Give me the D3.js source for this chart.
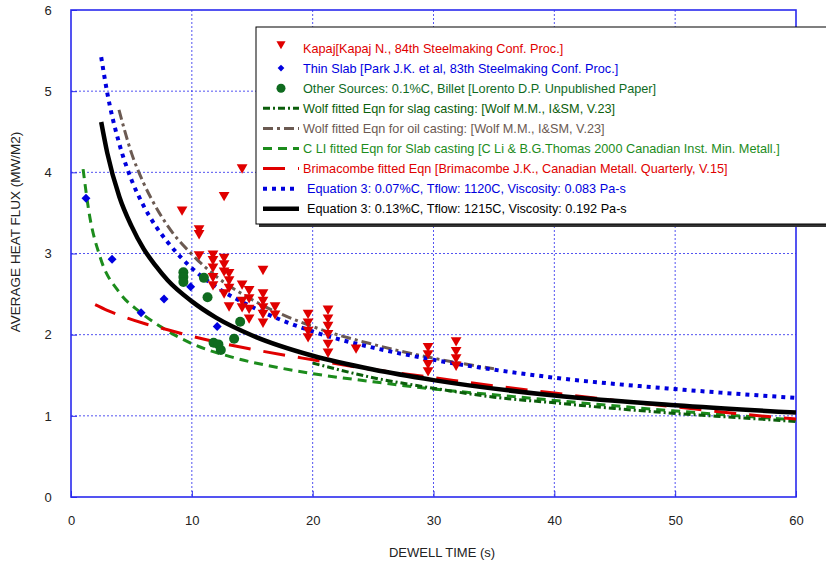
<!doctype html>
<html>
<head>
<meta charset="UTF-8">
<title>Heat flux vs dwell time</title>
<script src="https://d3js.org/d3.v7.min.js"></script>
<style>
  body { margin: 0; background: #fff; }
  svg { display: block; }
  text { font-family: "Liberation Sans", Arial, sans-serif; }
</style>
</head>
<body>
<svg id="chart" width="826" height="563"></svg>
<script>
// ---- data ----
var xTicks = [0, 10, 20, 30, 40, 50, 60];
var yTicks = [0, 1, 2, 3, 4, 5, 6];

// Kapaj [t (s), q (MW/m2)]
var kapaj = [
  [14.16, 4.06], [12.67, 3.72], [9.19, 3.54], [10.60, 3.31], [10.60, 3.25], [10.60, 2.99],
  [11.75, 3.00], [11.75, 2.93], [11.75, 2.84], [11.75, 2.72], [11.75, 2.62],
  [12.67, 2.96], [12.67, 2.88], [12.67, 2.79], [12.67, 2.52],
  [13.08, 2.77], [13.08, 2.68], [13.08, 2.59], [13.08, 2.36],
  [14.16, 2.63], [14.16, 2.43], [14.16, 2.35],
  [14.74, 2.56], [14.74, 2.46], [14.74, 2.33], [14.74, 2.21],
  [15.89, 2.81], [15.89, 2.52], [15.89, 2.43], [15.89, 2.35], [15.89, 2.27], [15.89, 2.16],
  [16.89, 2.36], [16.89, 2.26],
  [19.62, 2.27], [19.62, 2.16], [19.62, 2.06], [19.62, 1.98],
  [21.27, 2.32], [21.27, 2.21], [21.27, 2.12], [21.27, 2.02], [21.27, 1.90], [21.27, 1.79],
  [23.59, 1.84],
  [29.55, 1.86], [29.55, 1.77], [29.55, 1.65], [29.55, 1.56],
  [31.87, 1.93], [31.87, 1.81], [31.87, 1.72], [31.87, 1.63]
];

var thinSlab = [[1.24, 3.68], [3.4, 2.93], [5.8, 2.27], [7.7, 2.44], [9.9, 2.59], [12.1, 2.10]];

var otherSources = [
  [9.3, 2.77], [9.3, 2.71], [9.3, 2.65], [11.0, 2.70], [11.3, 2.46], [14.0, 2.16],
  [13.5, 1.95], [11.8, 1.90], [12.2, 1.88], [12.4, 1.81]
];

var wolfSlag = [[20, 1.65], [25, 1.47], [30, 1.34], [35, 1.23], [40, 1.16], [45, 1.09],
  [50, 1.03], [55, 0.98], [60, 0.93]];

var wolfOil = [[3.97, 4.77], [5, 4.24], [6, 3.87], [7, 3.58], [8, 3.34], [10, 2.99], [12, 2.72],
  [15, 2.43], [20, 2.10], [25, 1.88], [30, 1.71], [35, 1.58]];

var cLi = [[1.0, 4.04], [1.5, 3.5], [2.4, 2.96], [4.0, 2.52], [5.7, 2.28], [7.4, 2.10], [10, 1.89],
  [13.4, 1.72], [17.3, 1.59], [20, 1.52], [25, 1.42], [30, 1.33], [35, 1.26], [40, 1.19],
  [50, 1.06], [60, 0.95]];

var brimacombe = [[2, 2.37], [3, 2.30], [4, 2.24], [6, 2.14], [8, 2.06], [10, 1.98], [15, 1.82],
  [20, 1.69], [25, 1.57], [30, 1.47], [35, 1.37], [40, 1.28], [45, 1.19], [50, 1.11],
  [55, 1.03], [60, 0.96]];

var eq3Low = [[2.5, 5.42], [3, 4.98], [4, 4.35], [5, 3.91], [6, 3.59], [7, 3.34], [8, 3.14],
  [10, 2.82], [12, 2.59], [15, 2.34], [20, 2.04], [25, 1.84], [30, 1.69], [40, 1.47],
  [50, 1.33], [60, 1.22]];

var eq3High = [[2.5, 4.62], [3, 4.24], [4, 3.70], [5, 3.34], [6, 3.06], [7, 2.85], [8, 2.67],
  [10, 2.41], [12, 2.21], [15, 1.99], [20, 1.74], [25, 1.57], [30, 1.44], [40, 1.25],
  [50, 1.13], [60, 1.04]];

var legendLabels = [
  "Kapaj[Kapaj N., 84th Steelmaking Conf. Proc.]",
  "Thin Slab [Park J.K. et al, 83th Steelmaking Conf. Proc.]",
  "Other Sources: 0.1%C, Billet [Lorento D.P. Unpublished Paper]",
  "Wolf fitted Eqn for slag casting: [Wolf M.M., I&SM, V.23]",
  "Wolf fitted Eqn for oil casting: [Wolf M.M., I&SM, V.23]",
  "C LI fitted Eqn for Slab casting [C Li & B.G.Thomas 2000 Canadian Inst. Min. Metall.]",
  "Brimacombe fitted Eqn [Brimacombe J.K., Canadian Metall. Quarterly, V.15]",
  "Equation 3: 0.07%C, Tflow: 1120C, Viscosity: 0.083 Pa-s",
  "Equation 3: 0.13%C, Tflow: 1215C, Viscosity: 0.192 Pa-s"
];

// ---- drawing ----
var svg = d3.select("#chart");
var x = d3.scaleLinear().domain([0, 60]).range([71, 796]);
var y = d3.scaleLinear().domain([0, 6]).range([497, 10]);
var gridBlue = "#2a2aee";

// grid lines
svg.append("g").selectAll("line").data(xTicks.slice(1, -1)).enter().append("line")
  .attr("x1", d => x(d)).attr("x2", d => x(d)).attr("y1", y(6)).attr("y2", y(0))
  .attr("stroke", gridBlue).attr("stroke-width", 1).attr("stroke-dasharray", "2,2").attr("opacity", 0.8);
svg.append("g").selectAll("line").data(yTicks.slice(1, -1)).enter().append("line")
  .attr("x1", x(0)).attr("x2", x(60)).attr("y1", d => y(d)).attr("y2", d => y(d))
  .attr("stroke", gridBlue).attr("stroke-width", 1).attr("stroke-dasharray", "2,2").attr("opacity", 0.8);

// axes (ticks inward)
var xAxis = svg.append("g").attr("transform", "translate(0," + y(0) + ")")
  .call(d3.axisBottom(x).tickValues(xTicks).tickSize(-6).tickPadding(19).tickFormat(d3.format("d")));
var yAxis = svg.append("g").attr("transform", "translate(" + x(0) + ",0)")
  .call(d3.axisLeft(y).tickValues(yTicks).tickSize(-6).tickPadding(18).tickFormat(d3.format("d")));
[xAxis, yAxis].forEach(function(a) {
  a.select(".domain").remove();
  a.selectAll("line").attr("stroke", gridBlue);
  a.selectAll("text").attr("font-size", 13).attr("fill", "#222")
    .style("font-family", "'Liberation Sans', Arial, sans-serif");
});
yAxis.selectAll("text").attr("text-anchor", "middle").attr("x", -23);

// frame
svg.append("rect").attr("x", x(0)).attr("y", y(6)).attr("width", x(60) - x(0)).attr("height", y(0) - y(6))
  .attr("fill", "none").attr("stroke", gridBlue).attr("stroke-width", 1.6);

// axis titles
svg.append("text").attr("x", 442).attr("y", 557).attr("text-anchor", "middle")
  .attr("font-size", 13).attr("fill", "#222").text("DEWELL TIME (s)");
svg.append("text").attr("transform", "translate(20,232) rotate(-90)").attr("text-anchor", "middle")
  .attr("font-size", 13.5).attr("fill", "#222").text("AVERAGE HEAT FLUX (MW/M2)");

// curves
var line = d3.line().x(d => x(d[0])).y(d => y(d[1])).curve(d3.curveMonotoneX);
var curves = [
  { data: cLi, color: "#1c8c1c", width: 3, dash: "9,6" },
  { data: wolfSlag, color: "#0b5e0b", width: 3, dash: "7,3,2,3" },
  { data: brimacombe, color: "#e00000", width: 3, dash: "22,13" },
  { data: wolfOil, color: "#6b5a52", width: 3, dash: "10,4,3,4" },
  { data: eq3Low, color: "#0000dd", width: 4, dash: "4,5" },
  { data: eq3High, color: "#000000", width: 4.5, dash: null }
];
svg.append("g").selectAll("path").data(curves).enter().append("path")
  .attr("d", d => line(d.data))
  .attr("fill", "none")
  .attr("stroke", d => d.color)
  .attr("stroke-width", d => d.width)
  .attr("stroke-dasharray", d => d.dash);

// markers
var tri = d3.symbol().type(d3.symbolTriangle).size(50);
var dia = d3.symbol().type(d3.symbolSquare).size(40);

svg.append("g").selectAll("circle").data(otherSources).enter().append("circle")
  .attr("cx", d => x(d[0])).attr("cy", d => y(d[1])).attr("r", 5).attr("fill", "#0f6b1f");
svg.append("g").selectAll("path").data(thinSlab).enter().append("path")
  .attr("d", dia).attr("transform", d => "translate(" + x(d[0]) + "," + y(d[1]) + ") rotate(45)")
  .attr("fill", "#0000e0");
svg.append("g").selectAll("path").data(kapaj).enter().append("path")
  .attr("d", tri).attr("transform", d => "translate(" + x(d[0]) + "," + y(d[1]) + ") rotate(180)")
  .attr("fill", "#e00000");

// legend
var lg = svg.append("g");
lg.append("rect").attr("x", 259).attr("y", 30).attr("width", 600).attr("height", 197).attr("fill", "#333");
lg.append("rect").attr("x", 256).attr("y", 27).attr("width", 600).attr("height", 197)
  .attr("fill", "#fff").attr("stroke", "#000").attr("stroke-width", 1);

var legendColors = ["#e00000", "#0000e0", "#0f6b1f", "#0b5e0b", "#6b5a52", "#1c8c1c", "#e00000", "#0000dd", "#000000"];
var rowY = i => 48 + i * 20.1;

lg.selectAll("text.lab").data(legendLabels).enter().append("text")
  .attr("class", "lab")
  .attr("x", (d, i) => i >= 7 ? 307 : 303)
  .attr("y", (d, i) => rowY(i) + 4.5)
  .attr("font-size", 12.7)
  .attr("fill", (d, i) => legendColors[i])
  .text(d => d);

lg.append("path").attr("d", tri).attr("transform", "translate(281," + (rowY(0) - 4) + ") rotate(180) scale(0.85)").attr("fill", "#e00000");
lg.append("path").attr("d", dia).attr("transform", "translate(281," + rowY(1) + ") rotate(45) scale(0.75)").attr("fill", "#0000e0");
lg.append("circle").attr("cx", 281).attr("cy", rowY(2)).attr("r", 4.5).attr("fill", "#0f6b1f");

var legendCurves = [
  { c: curves[1], i: 3 }, { c: curves[3], i: 4 }, { c: curves[0], i: 5 },
  { c: curves[2], i: 6 }, { c: curves[4], i: 7 }, { c: curves[5], i: 8 }
];
legendCurves.forEach(function(l) {
  lg.append("line").attr("x1", 263).attr("x2", 299).attr("y1", rowY(l.i)).attr("y2", rowY(l.i))
    .attr("stroke", l.c.color).attr("stroke-width", l.c.width)
    .attr("stroke-dasharray", l.c.dash);
});
</script>
</body>
</html>
